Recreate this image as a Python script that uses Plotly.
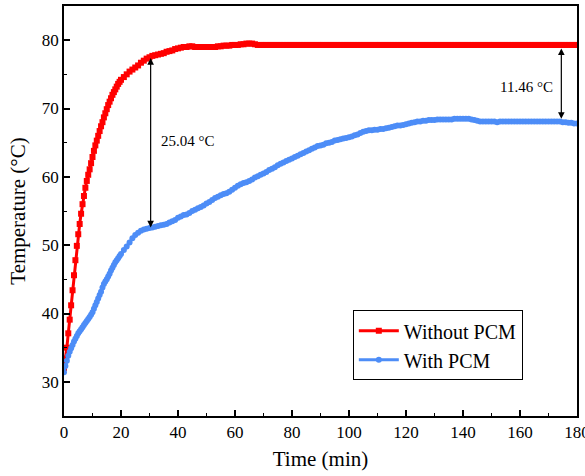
import plotly.graph_objects as go

# Time axis (min): 0.5-min sampling for the first 20 min, then 1-min
time_early = [i * 0.5 for i in range(41)]
time_late = list(range(21, 181))
time = time_early + time_late

without_pcm = [
    # 0 .. 20 (step 0.5)
    32.0, 33.4, 35.0, 37.1, 39.1, 41.2, 43.4, 45.6, 47.8, 49.9,
    51.6, 53.1, 54.6, 56.0, 57.2, 58.4, 59.4, 60.3, 61.1, 62.0,
    62.9, 63.8, 64.6, 65.3, 66.0, 66.7, 67.4, 68.0, 68.7, 69.3,
    69.9, 70.5, 71.0, 71.5, 72.0, 72.4, 72.8, 73.2, 73.6, 73.9,
    74.2,
    # 21 .. 180 (step 1)
    74.6, 75.0, 75.4, 75.7, 76.0, 76.3, 76.7, 77.0, 77.3, 77.5,
    77.7, 77.8, 77.9, 78.0, 78.1, 78.3, 78.4, 78.5, 78.7, 78.8,
    78.9, 79.0, 79.0, 79.1, 79.1, 79.0, 79.0, 79.0, 79.0, 79.0,
    79.0, 79.0, 79.0, 79.1, 79.1, 79.2, 79.2, 79.2, 79.3, 79.3,
    79.3, 79.4, 79.4, 79.5, 79.5, 79.5, 79.4, 79.3, 79.3, 79.3,
    79.3, 79.3, 79.3, 79.3, 79.3, 79.3, 79.3, 79.3, 79.3, 79.3,
    79.3, 79.3, 79.3, 79.3, 79.3, 79.3, 79.3, 79.3, 79.3, 79.3,
    79.3, 79.3, 79.3, 79.3, 79.3, 79.3, 79.3, 79.3, 79.3, 79.3,
    79.3, 79.3, 79.3, 79.3, 79.3, 79.3, 79.3, 79.3, 79.3, 79.3,
    79.3, 79.3, 79.3, 79.3, 79.3, 79.3, 79.3, 79.3, 79.3, 79.3,
    79.3, 79.3, 79.3, 79.3, 79.3, 79.3, 79.3, 79.3, 79.3, 79.3,
    79.3, 79.3, 79.3, 79.3, 79.3, 79.3, 79.3, 79.3, 79.3, 79.3,
    79.3, 79.3, 79.3, 79.3, 79.3, 79.3, 79.3, 79.3, 79.3, 79.3,
    79.3, 79.3, 79.3, 79.3, 79.3, 79.3, 79.3, 79.3, 79.3, 79.3,
    79.3, 79.3, 79.3, 79.3, 79.3, 79.3, 79.3, 79.3, 79.3, 79.3,
    79.3, 79.3, 79.3, 79.3, 79.3, 79.3, 79.3, 79.3, 79.3, 79.3,
]

with_pcm = [
    # 0 .. 20 (step 0.5)
    31.4, 32.3, 33.1, 33.8, 34.4, 34.9, 35.4, 35.9, 36.3, 36.7,
    37.1, 37.4, 37.7, 38.0, 38.3, 38.6, 38.9, 39.2, 39.5, 39.8,
    40.2, 40.7, 41.2, 41.7, 42.2, 42.7, 43.2, 43.8, 44.3, 44.7,
    45.0, 45.4, 45.8, 46.3, 46.7, 47.1, 47.5, 47.8, 48.1, 48.4,
    48.7,
    # 21 .. 180 (step 1)
    49.3, 49.8, 50.4, 51.0, 51.5, 51.8, 52.1, 52.3, 52.4, 52.5,
    52.6, 52.7, 52.8, 52.9, 53.0, 53.1, 53.3, 53.5, 53.7, 54.0,
    54.2, 54.4, 54.5, 54.7, 55.0, 55.2, 55.4, 55.6, 55.8, 56.1,
    56.3, 56.6, 56.9, 57.1, 57.3, 57.5, 57.6, 57.8, 58.1, 58.4,
    58.7, 58.9, 59.1, 59.2, 59.4, 59.6, 59.9, 60.1, 60.3, 60.5,
    60.7, 61.0, 61.2, 61.4, 61.7, 61.9, 62.1, 62.3, 62.5, 62.7,
    62.9, 63.1, 63.3, 63.5, 63.7, 63.9, 64.1, 64.3, 64.5, 64.6,
    64.7, 64.9, 65.0, 65.1, 65.3, 65.4, 65.5, 65.6, 65.7, 65.8,
    65.9, 66.1, 66.2, 66.4, 66.6, 66.7, 66.8, 66.8, 66.9, 66.9,
    67.0, 67.0, 67.1, 67.2, 67.3, 67.4, 67.5, 67.5, 67.6, 67.7,
    67.8, 67.9, 68.0, 68.1, 68.1, 68.2, 68.2, 68.3, 68.3, 68.3,
    68.4, 68.4, 68.4, 68.4, 68.4, 68.4, 68.5, 68.5, 68.5, 68.5,
    68.5, 68.5, 68.4, 68.3, 68.2, 68.1, 68.1, 68.1, 68.1, 68.1,
    68.1, 68.0, 68.1, 68.1, 68.1, 68.1, 68.1, 68.1, 68.1, 68.1,
    68.1, 68.1, 68.1, 68.1, 68.1, 68.1, 68.1, 68.1, 68.1, 68.1,
    68.1, 68.1, 68.1, 68.1, 68.0, 68.0, 67.9, 67.9, 67.8, 67.8,
]

series_names = ["Without PCM", "With PCM"]
x_ticks = [0, 20, 40, 60, 80, 100, 120, 140, 160, 180]
y_ticks = [30, 40, 50, 60, 70, 80]

# annotation data: (time, upper temp, lower temp, label)
gap1 = (30.4, 77.6, 52.6, "25.04 °C")
gap2 = (174.5, 79.0, 68.5, "11.46 °C")

RED = "#ff0000"
BLUE = "#4d8df7"
FONT = "Liberation Serif, Times New Roman, serif"

fig = go.Figure()
fig.add_trace(go.Scatter(
    x=time, y=without_pcm, name=series_names[0], mode="lines+markers",
    line=dict(color=RED, width=3),
    marker=dict(symbol="square", size=6, color=RED),
))
fig.add_trace(go.Scatter(
    x=time, y=with_pcm, name=series_names[1], mode="lines+markers",
    line=dict(color=BLUE, width=3),
    marker=dict(symbol="circle", size=6, color=BLUE),
))

for (t, hi, lo, label), tx, ty, xa in [
    (gap1, 33.3, 65.2, "left"),
    (gap2, 172.2, 73.2, "right"),
]:
    fig.add_annotation(
        x=t, y=lo, ax=t, ay=hi, xref="x", yref="y", axref="x", ayref="y",
        showarrow=True, arrowhead=2, arrowside="end+start", arrowsize=1.1,
        arrowwidth=1.2, arrowcolor="black", text="",
    )
    fig.add_annotation(
        x=tx, y=ty, xref="x", yref="y", text=label, showarrow=False,
        xanchor=xa, yanchor="middle",
        font=dict(family=FONT, size=15, color="black"),
    )

axis_common = dict(
    showline=True, linecolor="black", linewidth=1.5, mirror=True,
    ticks="inside", ticklen=6, tickwidth=1.5, tickcolor="black",
    showgrid=False, zeroline=False, automargin=False,
    ticklabeloverflow="allow",
    tickfont=dict(family=FONT, size=17, color="black"),
)

fig.update_xaxes(
    range=[0, 180], tickvals=x_ticks,
    title=dict(text="Time (min)", font=dict(family=FONT, size=21, color="black"), standoff=10),
    minor=dict(ticks="inside", ticklen=3, tickwidth=1.2, tickcolor="black", dtick=10),
    **axis_common,
)
fig.update_yaxes(
    range=[25, 85], tickvals=y_ticks,
    title=dict(text="Temperature (°C)", font=dict(family=FONT, size=21, color="black"), standoff=10),
    minor=dict(ticks="inside", ticklen=3, tickwidth=1.2, tickcolor="black", dtick=5),
    **axis_common,
)

fig.update_layout(
    width=585, height=476,
    margin=dict(l=64, r=8, t=6, b=60),
    paper_bgcolor="white", plot_bgcolor="white",
    showlegend=True,
    legend=dict(
        x=0.563, y=0.258, xanchor="left", yanchor="top",
        bordercolor="black", borderwidth=1, bgcolor="white",
        font=dict(family=FONT, size=20, color="black"),
        tracegroupgap=0, itemwidth=40,
    ),
)

fig.write_html(
    "out.html",
    config={"displayModeBar": False},
    post_script="document.body.style.margin='0';document.body.style.overflow='hidden';",
)
